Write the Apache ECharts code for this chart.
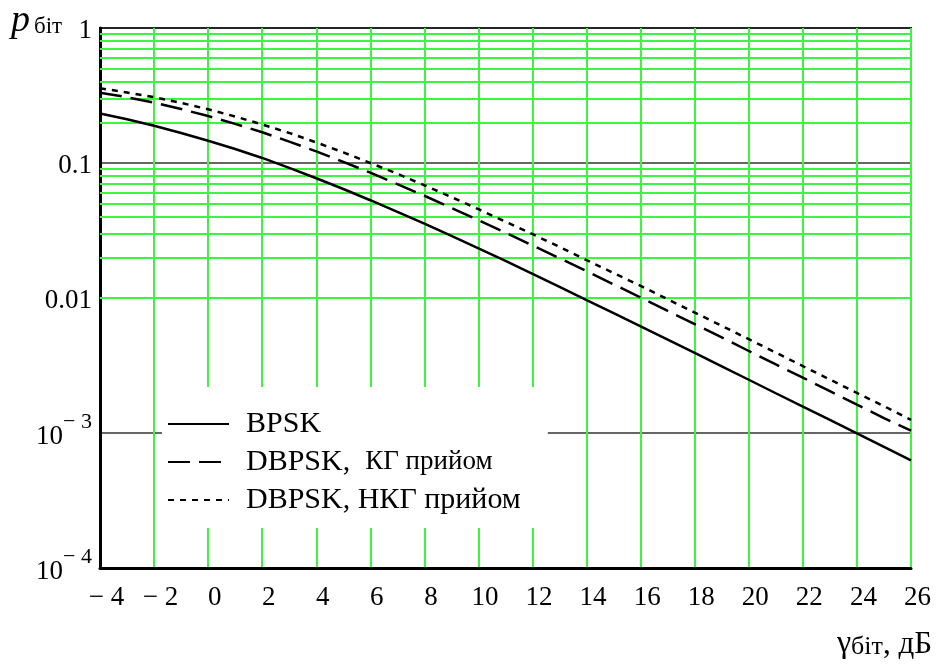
<!DOCTYPE html>
<html>
<head>
<meta charset="utf-8">
<script src="https://cdn.jsdelivr.net/npm/echarts@6/dist/echarts.min.js"></script>
<style>html,body{margin:0;padding:0;background:#fff;}#c{width:936px;height:668px;}</style>
</head>
<body>
<div id="c"></div>
<script>
// gamma_bit, dB
const snrDb = [-4,-3,-2,-1,0,1,2,3,4,5,6,7,8,9,10,11,12,13,14,15,16,17,18,19,20,21,22,23,24,25,26];
// BPSK
const bpsk = [0.233,0.211,0.189,0.167,0.146,0.127,0.109,0.0919,0.0771,0.0642,0.0530,0.0435,0.0355,0.0288,0.0233,0.0188,0.0151,0.0121,0.00966,0.00772,0.00617,0.00492,0.00392,0.00312,0.00248,0.00197,0.00157,0.00125,0.000992,0.000789,0.000627];
// DBPSK, coherent reception
const dbpskCoh = [0.332,0.307,0.280,0.251,0.223,0.195,0.169,0.144,0.122,0.102,0.0848,0.0698,0.0572,0.0465,0.0377,0.0305,0.0245,0.0197,0.0158,0.0126,0.0101,0.00803,0.00640,0.00510,0.00405,0.00322,0.00257,0.00204,0.00162,0.00129,0.00104];
// DBPSK, noncoherent reception
const dbpskNoncoh = [0.358,0.333,0.307,0.279,0.250,0.221,0.193,0.167,0.142,0.120,0.100,0.0832,0.0684,0.0559,0.0455,0.0368,0.0297,0.0239,0.0191,0.0153,0.0123,0.00978,0.00780,0.00622,0.00495,0.00394,0.00313,0.00249,0.00198,0.00158,0.00125];
// y tick labels (decades from 1e-4 up to 1)
const yTickLabels = ['{b|10}{s|− 4}', '{b|10}{s|− 3}', '{d|0.01}', '{d|0.1}', '{d|1}'];
// minor (green) horizontal grid values
const minorGrid = [0.0002,0.0003,0.0004,0.0005,0.0006,0.0007,0.0008,0.0009,
  0.002,0.003,0.004,0.005,0.006,0.007,0.008,0.009,
  0.02,0.03,0.04,0.05,0.06,0.07,0.08,0.09,
  0.2,0.3,0.4,0.5,0.6,0.7,0.8,0.9];
const seriesNames = ['BPSK', 'DBPSK,  КГ прийом', 'DBPSK, НКГ прийом'];

const GREEN = '#3cf53c';
const FONT = '"Liberation Serif", "DejaVu Serif", serif';

function pairs(ys) { return snrDb.map((x, i) => [x, ys[i]]); }

const chart = echarts.init(document.getElementById('c'), null, {renderer: 'canvas'});
chart.setOption({
  animation: false,
  backgroundColor: '#fff',
  textStyle: {fontFamily: FONT},
  grid: {left: 100, right: 25, top: 28, bottom: 100, show: true, borderColor: '#000', borderWidth: 2, backgroundColor: 'transparent'},
  xAxis: {
    type: 'value', min: -4, max: 26, interval: 2,
    axisLine: {show: true, onZero: false, lineStyle: {color: '#000', width: 3}},
    axisTick: {show: false},
    splitLine: {show: true, lineStyle: {color: GREEN, width: 2}},
    axisLabel: {
      color: '#000', fontFamily: FONT, fontSize: 27, margin: 16, padding: [0, 0, 0, 13],
      formatter: v => v < 0 ? '− ' + Math.abs(v) : String(v)
    }
  },
  yAxis: {
    type: 'log', logBase: 10, min: 0.0001, max: 1,
    axisLine: {show: true, onZero: false, lineStyle: {color: '#000', width: 3}},
    axisTick: {show: false},
    splitLine: {show: true, lineStyle: {color: '#333', width: 1.5}},
    axisLabel: {
      color: '#000', fontFamily: FONT, fontSize: 27, margin: 8,
      formatter: v => {
        const k = Math.round(Math.log10(v)) + 4;
        return yTickLabels[k] || '';
      },
      rich: {
        d: {fontFamily: FONT, fontSize: 27, color: '#000', padding: [5, 0, 0, 0]},
        b: {fontFamily: FONT, fontSize: 27, color: '#000', padding: [8, 0, 0, 0]},
        s: {fontFamily: FONT, fontSize: 22, color: '#000', padding: [0, 0, 22, 0]}
      }
    }
  },
  legend: {
    data: seriesNames,
    orient: 'vertical', left: 162, top: 387,
    backgroundColor: '#fff',
    padding: [22, 27, 13, 5],
    itemWidth: 61, itemHeight: 14, itemGap: 8,
    align: 'left',
    itemStyle: {opacity: 0},
    textStyle: {fontFamily: FONT, fontSize: 30, lineHeight: 30, color: '#000', padding: [0, 0, 0, 12],
      rich: {
        a: {fontFamily: FONT, fontSize: 30, lineHeight: 30, color: '#000'},
        k: {fontFamily: FONT, fontSize: 27, lineHeight: 30, color: '#000'}
      }
    },
    formatter: name => name === seriesNames[1] ? '{a|DBPSK,}  {k|КГ прийом}' : name,
    z: 10
  },
  graphic: [
    {type: 'text', left: 11, top: 2, z: 10, style: {text: 'p', font: 'italic 38px ' + FONT, fill: '#000'}},
    {type: 'text', left: 34, top: 15, z: 10, style: {text: 'біт', font: '23px ' + FONT, fill: '#000'}},
    {type: 'text', right: 4, top: 628, z: 10, style: {
      text: '{g|γ}{s|біт}{n|, дБ}', fill: '#000',
      rich: {
        g: {fontFamily: FONT, fontSize: 32, verticalAlign: 'bottom', lineHeight: 32},
        s: {fontFamily: FONT, fontSize: 26, verticalAlign: 'bottom', lineHeight: 28},
        n: {fontFamily: FONT, fontSize: 31, verticalAlign: 'bottom', lineHeight: 32}
      }
    }}
  ],
  series: [
    {
      type: 'line', name: 'minor-grid', data: [], silent: true, z: 1,
      markLine: {
        silent: true, symbol: ['none', 'none'], animation: false,
        label: {show: false},
        lineStyle: {color: GREEN, width: 2, type: 'solid'},
        data: minorGrid.map(v => ({yAxis: v}))
      }
    },
    {type: 'line', name: seriesNames[0], data: pairs(bpsk), symbol: 'none', z: 5,
      lineStyle: {color: '#000', width: 2.5, type: 'solid'}, itemStyle: {color: '#000'}},
    {type: 'line', name: seriesNames[1], data: pairs(dbpskCoh), symbol: 'none', z: 5,
      lineStyle: {color: '#000', width: 2.5, type: [22, 9]}, itemStyle: {color: '#000'}},
    {type: 'line', name: seriesNames[2], data: pairs(dbpskNoncoh), symbol: 'none', z: 5,
      lineStyle: {color: '#000', width: 2.5, type: [6, 6]}, itemStyle: {color: '#000'}}
  ]
});
</script>
</body>
</html>
